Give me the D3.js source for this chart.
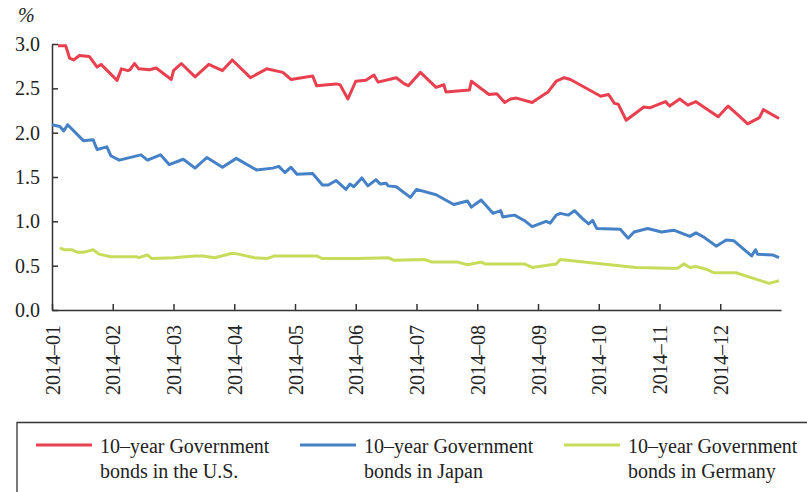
<!DOCTYPE html>
<html>
<head>
<meta charset="utf-8">
<script src="https://cdn.jsdelivr.net/npm/d3@7"></script>
<style>
  body { margin: 0; background: #fff; }
</style>
</head>
<body>
<div id="chart"></div>
<script>
// month tick labels (equal spacing per month)
var monthLabels = ["2014–01", "2014–02", "2014–03", "2014–04", "2014–05", "2014–06",
                   "2014–07", "2014–08", "2014–09", "2014–10", "2014–11", "2014–12"];
var yTicks = [0, 0.5, 1.0, 1.5, 2.0, 2.5, 3.0];

var seriesNames = ["10–year Government|bonds in the U.S.",
                   "10–year Government|bonds in Japan",
                   "10–year Government|bonds in Germany"];
var seriesColors = ["#e8404f", "#4581c6", "#c8dc5c"];

var usYields = [
  ["2014-01-04", 2.98], ["2014-01-08", 2.98], ["2014-01-10", 2.84], ["2014-01-12", 2.82],
  ["2014-01-15", 2.87], ["2014-01-20", 2.86], ["2014-01-24", 2.74], ["2014-01-26", 2.77],
  ["2014-02-03", 2.59], ["2014-02-05", 2.72], ["2014-02-08", 2.70], ["2014-02-09", 2.71],
  ["2014-02-11", 2.78], ["2014-02-13", 2.72], ["2014-02-18", 2.71], ["2014-02-21", 2.73],
  ["2014-02-28", 2.60], ["2014-03-01", 2.70], ["2014-03-05", 2.78], ["2014-03-12", 2.63],
  ["2014-03-19", 2.77], ["2014-03-26", 2.70], ["2014-03-31", 2.82], ["2014-04-09", 2.62],
  ["2014-04-17", 2.72], ["2014-04-25", 2.68], ["2014-04-29", 2.60], ["2014-05-10", 2.64],
  ["2014-05-12", 2.53], ["2014-05-22", 2.55], ["2014-05-24", 2.54], ["2014-05-28", 2.38],
  ["2014-06-01", 2.58], ["2014-06-06", 2.59], ["2014-06-10", 2.65], ["2014-06-12", 2.57],
  ["2014-06-21", 2.62], ["2014-06-25", 2.55], ["2014-06-27", 2.53], ["2014-07-03", 2.68],
  ["2014-07-11", 2.51], ["2014-07-15", 2.54], ["2014-07-16", 2.46], ["2014-07-28", 2.48],
  ["2014-07-29", 2.58], ["2014-08-07", 2.43], ["2014-08-11", 2.44], ["2014-08-15", 2.34],
  ["2014-08-18", 2.38], ["2014-08-21", 2.39], ["2014-08-29", 2.34], ["2014-09-04", 2.43],
  ["2014-09-06", 2.46], ["2014-09-10", 2.58], ["2014-09-14", 2.62], ["2014-09-17", 2.60],
  ["2014-10-02", 2.41], ["2014-10-06", 2.43], ["2014-10-09", 2.33], ["2014-10-11", 2.32],
  ["2014-10-15", 2.14], ["2014-10-24", 2.29], ["2014-10-27", 2.28], ["2014-11-04", 2.35],
  ["2014-11-06", 2.30], ["2014-11-11", 2.38], ["2014-11-15", 2.31], ["2014-11-19", 2.35],
  ["2014-11-30", 2.18], ["2014-12-05", 2.30], ["2014-12-11", 2.18], ["2014-12-15", 2.10],
  ["2014-12-21", 2.17], ["2014-12-23", 2.26], ["2014-12-31", 2.16]
];

var jpYields = [
  ["2014-01-01", 2.09], ["2014-01-05", 2.07], ["2014-01-07", 2.02], ["2014-01-09", 2.09],
  ["2014-01-17", 1.91], ["2014-01-22", 1.92], ["2014-01-24", 1.81], ["2014-01-29", 1.84],
  ["2014-01-31", 1.74], ["2014-02-04", 1.69], ["2014-02-14", 1.75], ["2014-02-17", 1.69],
  ["2014-02-23", 1.75], ["2014-02-27", 1.64], ["2014-03-06", 1.70], ["2014-03-12", 1.60],
  ["2014-03-18", 1.72], ["2014-03-26", 1.61], ["2014-04-02", 1.71], ["2014-04-12", 1.58],
  ["2014-04-20", 1.60], ["2014-04-23", 1.62], ["2014-04-26", 1.55], ["2014-04-29", 1.61],
  ["2014-05-02", 1.53], ["2014-05-10", 1.54], ["2014-05-15", 1.41], ["2014-05-18", 1.41],
  ["2014-05-22", 1.46], ["2014-05-27", 1.36], ["2014-05-29", 1.42], ["2014-05-31", 1.39],
  ["2014-06-04", 1.49], ["2014-06-07", 1.40], ["2014-06-11", 1.47], ["2014-06-13", 1.42],
  ["2014-06-16", 1.43], ["2014-06-17", 1.40], ["2014-06-21", 1.39], ["2014-06-28", 1.27],
  ["2014-07-01", 1.36], ["2014-07-11", 1.30], ["2014-07-20", 1.19], ["2014-07-27", 1.23],
  ["2014-07-29", 1.16], ["2014-08-03", 1.24], ["2014-08-09", 1.09], ["2014-08-13", 1.12],
  ["2014-08-14", 1.05], ["2014-08-20", 1.07], ["2014-08-25", 1.01], ["2014-08-29", 0.94],
  ["2014-09-05", 1.00], ["2014-09-07", 0.98], ["2014-09-10", 1.07], ["2014-09-12", 1.09],
  ["2014-09-16", 1.07], ["2014-09-19", 1.12], ["2014-09-23", 1.03], ["2014-09-26", 0.97],
  ["2014-09-28", 1.01], ["2014-09-30", 0.92], ["2014-10-12", 0.91], ["2014-10-16", 0.81],
  ["2014-10-19", 0.88], ["2014-10-26", 0.92], ["2014-11-02", 0.88], ["2014-11-08", 0.90],
  ["2014-11-16", 0.83], ["2014-11-19", 0.87], ["2014-11-23", 0.82], ["2014-11-29", 0.72],
  ["2014-12-04", 0.79], ["2014-12-08", 0.78], ["2014-12-17", 0.61], ["2014-12-19", 0.68],
  ["2014-12-20", 0.63], ["2014-12-28", 0.62], ["2014-12-31", 0.59]
];

var deYields = [
  ["2014-01-05", 0.70], ["2014-01-07", 0.68], ["2014-01-11", 0.68], ["2014-01-14", 0.65],
  ["2014-01-17", 0.65], ["2014-01-22", 0.68], ["2014-01-25", 0.63], ["2014-01-31", 0.60],
  ["2014-02-12", 0.60], ["2014-02-13", 0.59], ["2014-02-17", 0.62], ["2014-02-19", 0.58],
  ["2014-03-01", 0.59], ["2014-03-12", 0.61], ["2014-03-16", 0.61], ["2014-03-22", 0.59],
  ["2014-03-31", 0.64], ["2014-04-03", 0.63], ["2014-04-11", 0.59], ["2014-04-17", 0.58],
  ["2014-04-21", 0.61], ["2014-05-12", 0.61], ["2014-05-15", 0.58], ["2014-06-02", 0.58],
  ["2014-06-17", 0.59], ["2014-06-20", 0.56], ["2014-07-05", 0.57], ["2014-07-09", 0.54],
  ["2014-07-22", 0.54], ["2014-07-27", 0.51], ["2014-08-03", 0.54], ["2014-08-05", 0.52],
  ["2014-08-25", 0.52], ["2014-08-29", 0.48], ["2014-09-10", 0.52], ["2014-09-12", 0.57],
  ["2014-10-20", 0.48], ["2014-11-05", 0.47], ["2014-11-10", 0.47], ["2014-11-13", 0.52],
  ["2014-11-16", 0.48], ["2014-11-19", 0.49], ["2014-11-24", 0.46], ["2014-11-28", 0.42],
  ["2014-12-09", 0.42], ["2014-12-26", 0.30], ["2014-12-31", 0.33]
];

var width = 807, height = 492;
var margin = {top: 44, right: 26, bottom: 182, left: 52};
var serif = "'Times New Roman', Times, 'Liberation Serif', 'DejaVu Serif', 'Noto Serif', serif";

var svg = d3.select("#chart").append("svg")
    .attr("width", width)
    .attr("height", height);

var parse = d3.timeParse("%Y-%m-%d");

// each month takes the same width on the axis
function monthPos(s) {
  var d = parse(s);
  var days = new Date(d.getFullYear(), d.getMonth() + 1, 0).getDate();
  return d.getMonth() + (d.getDate() - 1) / days;
}

var x = d3.scaleLinear()
    .domain([0, 12])
    .range([margin.left, width - margin.right]);

var y = d3.scaleLinear()
    .domain([0, 3])
    .range([height - margin.bottom, margin.top]);

var axisColor = "#333";

// y axis
var yAxis = svg.append("g")
    .attr("transform", "translate(" + margin.left + ",0)")
    .call(d3.axisLeft(y).tickValues(yTicks).tickFormat(d3.format(".1f"))
        .tickSizeInner(-6).tickSizeOuter(0).tickPadding(12));
yAxis.selectAll("text")
    .style("font-family", serif)
    .style("font-size", "20px")
    .attr("fill", "#222");

// x axis
var xAxis = svg.append("g")
    .attr("transform", "translate(0," + (height - margin.bottom) + ")")
    .call(d3.axisBottom(x).tickValues(d3.range(0, 12))
        .tickFormat(function(i) { return monthLabels[i]; })
        .tickSizeInner(-6).tickSizeOuter(0));
xAxis.selectAll("text")
    .style("font-family", serif)
    .style("font-size", "20px")
    .attr("fill", "#222")
    .attr("transform", "rotate(-90)")
    .attr("x", -15)
    .attr("y", 0)
    .attr("dy", "0.36em")
    .style("text-anchor", "end");

svg.selectAll(".domain, .tick line")
    .attr("stroke", axisColor)
    .attr("stroke-width", 1.5);

svg.append("text")
    .attr("x", 18)
    .attr("y", 22)
    .style("font-family", serif)
    .style("font-size", "20px")
    .style("font-style", "italic")
    .attr("fill", "#222")
    .text("%");

var line = d3.line()
    .x(function(d) { return x(monthPos(d[0])); })
    .y(function(d) { return y(d[1]); });

var allSeries = [usYields, jpYields, deYields];

// draw green first, red on top like the original
[2, 1, 0].forEach(function(i) {
  svg.append("path")
      .datum(allSeries[i])
      .attr("fill", "none")
      .attr("stroke", seriesColors[i])
      .attr("stroke-width", 3)
      .attr("stroke-linejoin", "round")
      .attr("d", line);
});

// legend box (open to the right and bottom)
svg.append("path")
    .attr("d", "M17,500 L17,422.5 L820,422.5")
    .attr("fill", "none")
    .attr("stroke", axisColor)
    .attr("stroke-width", 1.3);

var legendX = [36, 300, 564];
var legend = svg.selectAll(".legend")
    .data(seriesNames)
    .enter().append("g")
    .attr("class", "legend")
    .attr("transform", function(d, i) { return "translate(" + legendX[i] + ",0)"; });

legend.append("line")
    .attr("x1", 0).attr("x2", 56)
    .attr("y1", 445).attr("y2", 445)
    .attr("stroke", function(d, i) { return seriesColors[i]; })
    .attr("stroke-width", 3);

legend.append("text")
    .attr("x", 64)
    .attr("y", 453)
    .style("font-family", serif)
    .style("font-size", "20px")
    .attr("fill", "#222")
    .text(function(d) { return d.split("|")[0]; });

legend.append("text")
    .attr("x", 64)
    .attr("y", 478)
    .style("font-family", serif)
    .style("font-size", "20px")
    .attr("fill", "#222")
    .text(function(d) { return d.split("|")[1]; });
</script>
</body>
</html>
